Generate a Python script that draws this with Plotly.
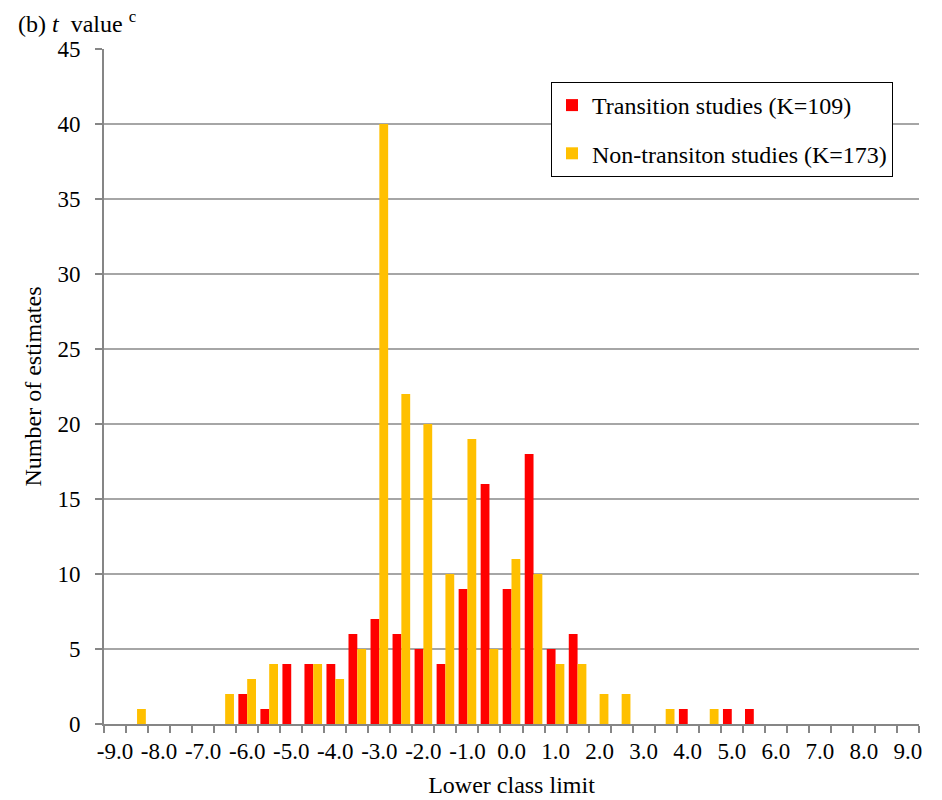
import plotly.graph_objects as go

# Lower class limits (categories)
classes = [-9.0, -8.5, -8.0, -7.5, -7.0, -6.5, -6.0, -5.5, -5.0, -4.5, -4.0, -3.5,
           -3.0, -2.5, -2.0, -1.5, -1.0, -0.5, 0.0, 0.5, 1.0, 1.5, 2.0, 2.5,
           3.0, 3.5, 4.0, 4.5, 5.0, 5.5, 6.0, 6.5, 7.0, 7.5, 8.0, 8.5, 9.0]

transition = [0, 0, 0, 0, 0, 0, 2, 1, 4, 4, 4, 6,
              7, 6, 5, 4, 9, 16, 9, 18, 5, 6, 0, 0,
              0, 0, 1, 0, 1, 1, 0, 0, 0, 0, 0, 0, 0]

non_transition = [0, 1, 0, 0, 0, 2, 3, 4, 0, 4, 3, 5,
                  40, 22, 20, 10, 19, 5, 11, 10, 4, 4, 2, 2,
                  0, 1, 0, 1, 0, 0, 0, 0, 0, 0, 0, 0, 0]

tick_vals = [-9.0, -8.0, -7.0, -6.0, -5.0, -4.0, -3.0, -2.0, -1.0, 0.0,
             1.0, 2.0, 3.0, 4.0, 5.0, 6.0, 7.0, 8.0, 9.0]
tick_text = ["-9.0", "-8.0", "-7.0", "-6.0", "-5.0", "-4.0", "-3.0", "-2.0", "-1.0", "0.0",
             "1.0", "2.0", "3.0", "4.0", "5.0", "6.0", "7.0", "8.0", "9.0"]

FONT = "Liberation Serif, Times New Roman, serif"
AXIS_GRAY = "#868686"
GRID_GRAY = "#A6A6A6"

half = (classes[1] - classes[0]) / 2
boundaries = [c - half for c in classes] + [classes[-1] + half]

W, H = 934, 792  # page body has an 8px margin

fig = go.Figure()
fig.add_trace(go.Bar(x=classes, y=transition, name="Transition studies (K=109)",
                     marker=dict(color="#FF0000", line=dict(width=0)),
                     legendgroup="a"))
fig.add_trace(go.Bar(x=classes, y=non_transition, name="Non-transiton studies (K=173)",
                     marker=dict(color="#FFC000", line=dict(width=0)),
                     legendgroup="b"))

fig.update_layout(
    width=W, height=H,
    paper_bgcolor="white", plot_bgcolor="white",
    margin=dict(l=96, r=23, t=41, b=76, autoexpand=False),
    barmode="group", bargap=0.2, bargroupgap=0,
    font=dict(family=FONT, size=23, color="black"),
    title=dict(text="(b) <i>t</i>  value <sup>c</sup>", xref="container", yref="container",
               x=10/W, xanchor="left", y=1-16/H, yanchor="middle",
               font=dict(family=FONT, size=24, color="black")),
    showlegend=True,
    legend=dict(x=(551-104)/815, y=1-(82-49)/675, xanchor="left", yanchor="top",
                bordercolor="black", borderwidth=1, bgcolor="white",
                font=dict(family=FONT, size=24, color="black"),
                tracegroupgap=14, traceorder="grouped",
                itemwidth=30),
    xaxis=dict(range=[boundaries[0], boundaries[-1]], automargin=False,
               tickmode="array", tickvals=tick_vals, ticktext=tick_text,
               ticks="", showgrid=False, zeroline=False,
               showline=True, linecolor=AXIS_GRAY, linewidth=2,
               ticklabelstandoff=5,
               minor=dict(tickmode="array", tickvals=boundaries, ticks="outside",
                          ticklen=7, tickwidth=1.5, tickcolor=AXIS_GRAY, showgrid=False),
               title=dict(text="Lower class limit", font=dict(family=FONT, size=24),
                          standoff=14)),
    yaxis=dict(range=[0, 45], tickmode="linear", tick0=0, dtick=5, automargin=False,
               ticks="outside", ticklen=7, tickwidth=1.5, tickcolor=AXIS_GRAY,
               showgrid=True, gridcolor=GRID_GRAY, gridwidth=1.5,
               zeroline=False, showline=True, linecolor=AXIS_GRAY, linewidth=2,
               ticklabelstandoff=10,
               title=dict(text="Number of estimates", font=dict(family=FONT, size=24),
                          standoff=9)),
)

fig.write_html("out.html")
